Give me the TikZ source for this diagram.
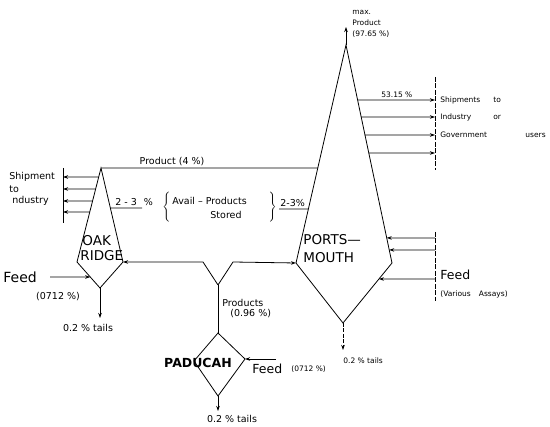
\documentclass[tikz,border=0pt]{standalone}
\usepackage{fontspec}
\setmainfont{DejaVu Sans}
\usetikzlibrary{arrows.meta,calc}
\begin{document}
\begin{tikzpicture}[x=1pt,y=-1pt,
  line width=0.8pt,
  arr/.style={-{Stealth[length=5pt,width=3.5pt]}},
  lbl/.style={font=\fontsize{9.5}{11}\selectfont, inner sep=0pt},
  sml/.style={font=\fontsize{7.5}{9}\selectfont, inner sep=0pt},
  big/.style={font=\fontsize{13.5}{15}\selectfont, inner sep=0pt},
  bigb/.style={font=\fontsize{12.5}{14}\selectfont\bfseries, inner sep=0pt},
  feedlbl/.style={font=\fontsize{12.5}{14}\selectfont, inner sep=0pt},
  coll/.style={dash pattern=on 5pt off 1.5pt, line width=0.6pt}]
\useasboundingbox (0,0) rectangle (550,427);

% ---------- plant outlines ----------
\coordinate (orT) at (101,168);
\coordinate (orL) at (77,262);
\coordinate (orB) at (100,288);
\coordinate (orR) at (123,262);
\draw (orT) -- (orL) -- (orB) -- (orR) -- cycle;

\coordinate (psT) at (346,45);
\coordinate (psL) at (296,263);
\coordinate (psB) at (343,323);
\coordinate (psR) at (392,263);
\draw (psT) -- (psL) -- (psB) -- (psR) -- cycle;

\coordinate (pdT) at (218,333);
\coordinate (pdL) at (194,361);
\coordinate (pdB) at (218,396);
\coordinate (pdR) at (245,359);
\draw (pdT) -- (pdL) -- (pdB) -- (pdR) -- cycle;

% ---------- plant names ----------
\node[big, anchor=west] (oak) at (82,241) {OAK};
\node[big, anchor=west] (ridge) at (80,256) {RIDGE};
\node[big, anchor=west] (ports) at (303,240) {PORTS—};
\node[big, anchor=west] (mouth) at (303,258) {MOUTH};
\node[bigb] (paducah) at (198,363) {PADUCAH};

% ---------- product (4 %) ----------
\coordinate (psP) at ($(psT)!0.564!(psL)$);
\draw (orT) -- (psP);
\node[lbl] (prod4) at (172,162) {Product (4 \%)};

% ---------- Oak Ridge shipments ----------
\coordinate (shLt) at (63,168);
\coordinate (shLb) at (63,223);
\draw (shLt) -- (shLb);
\coordinate (e1) at ($(orT)!0.096!(orL)$);
\coordinate (e2) at ($(orT)!0.223!(orL)$);
\coordinate (e3) at ($(orT)!0.351!(orL)$);
\coordinate (e4) at ($(orT)!0.468!(orL)$);
\coordinate (s1) at (63,177);
\coordinate (s2) at (63,189);
\coordinate (s3) at (63,201);
\coordinate (s4) at (63,212);
\draw[arr] (e1) -- (s1);
\draw[arr] (e2) -- (s2);
\draw[arr] (e3) -- (s3);
\draw[arr] (e4) -- (s4);
\node[lbl, anchor=west] (shp1) at (9,177) {Shipment};
\node[lbl, anchor=west] (shp2) at (9,189) {to};
\node[lbl, anchor=west] (shp3) at (12,201) {ndustry};

% ---------- Oak Ridge feed / tails ----------
\coordinate (orFs) at (50,277);
\coordinate (orFe) at ($(orL)!0.577!(orB)$);
\draw[arr] (orFs) -- (orFe);
\node[feedlbl, font=\fontsize{14}{15}\selectfont, anchor=west] (orFeed) at (3,277) {Feed};
\node[lbl] (orFpct) at (58,297) {(0712 \%)};
\coordinate (orTl) at (100,318);
\draw[arr] (orB) -- (orTl);
\node[lbl] (orTail) at (88,328) {0.2 \% tails};

% ---------- 2-3 % and stored products ----------
\coordinate (u1a) at ($(orT)!0.426!(orR)$);
\coordinate (u1b) at (142,208);
\draw (u1a) -- (u1b);
\node[lbl, anchor=west] (pct1) at (115,202.5) {2 - 3\hspace{7pt}\%};
\node[inner sep=0pt] (brL) at (167,207) {$\left\{\vcenter{\hrule height 30pt width 0pt}\right.$};
\node[lbl, anchor=west] (avail) at (172,201) {Avail – Products};
\node[lbl] (stored) at (226,215) {Stored};
\node[inner sep=0pt] (brR) at (272,207) {$\left.\vcenter{\hrule height 30pt width 0pt}\right\}$};
\coordinate (u2a) at (279,209);
\coordinate (u2b) at ($(psT)!0.752!(psL)$);
\draw (u2a) -- (u2b);
\node[lbl, anchor=west] (pct2) at (280,203) {2-3\%};

% ---------- Paducah products split ----------
\coordinate (sp) at (218,285);
\coordinate (spL) at (203,262);
\coordinate (spR) at (233,262);
\draw (pdT) -- (sp);
\draw[arr] (sp) -- (spL) -- (orR);
\draw[arr] (sp) -- (spR) -- (psL);
\node[lbl, anchor=west] (prods) at (222,303) {Products};
\node[lbl, anchor=west] (prodpct) at (230,314) {(0.96 \%)};

% ---------- Paducah feed / tails ----------
\coordinate (pdFs) at (276,359);
\draw[arr] (pdFs) -- (pdR);
\node[feedlbl, anchor=west] (pdFeed) at (252,369) {Feed};
\node[sml, anchor=west] (pdFpct) at (291,369) {(0712 \%)};
\coordinate (pdTl) at (218,411);
\draw[arr] (pdB) -- (pdTl);
\node[lbl] (pdTail) at (232,419) {0.2 \% tails};

% ---------- Portsmouth max product ----------
\coordinate (mx) at (346,27);
\draw[arr] (psT) -- (mx);
\node[sml, anchor=west] (mx1) at (352,12) {max.};
\node[sml, anchor=west] (mx2) at (352,23) {Product};
\node[sml, anchor=west] (mx3) at (352,34) {(97.65 \%)};

% ---------- Portsmouth shipments ----------
\coordinate (cRt) at (435,77);
\coordinate (cRb) at (435,170);
\draw[coll] (cRt) -- (cRb);
\coordinate (r1) at ($(psT)!0.252!(psR)$);
\coordinate (r2) at ($(psT)!0.330!(psR)$);
\coordinate (r3) at ($(psT)!0.413!(psR)$);
\coordinate (r4) at ($(psT)!0.495!(psR)$);
\coordinate (t1) at (435,100);
\coordinate (t2) at (435,117);
\coordinate (t3) at (435,135);
\coordinate (t4) at (435,153);
\draw[arr] (r1) -- (t1);
\draw[arr] (r2) -- (t2);
\draw[arr] (r3) -- (t3);
\draw[arr] (r4) -- (t4);
\node[sml, anchor=west] (pct53) at (381,95) {53.15 \%};
\node[sml, anchor=west] (ship1) at (440,100) {\makebox[53pt][l]{Shipments}to};
\node[sml, anchor=west] (ship2) at (440,117) {\makebox[53pt][l]{Industry}or};
\node[sml, anchor=west] (ship3) at (440,135) {\makebox[85pt][l]{Government}users};

% ---------- Portsmouth feed ----------
\coordinate (cFt) at (435,232);
\coordinate (cFb) at (435,301);
\draw[coll] (cFt) -- (cFb);
\coordinate (f1) at ($(psT)!0.885!(psR)$);
\coordinate (f2) at ($(psT)!0.940!(psR)$);
\coordinate (f3) at ($(psR)!0.267!(psB)$);
\coordinate (g1) at (435,238);
\coordinate (g2) at (435,250);
\coordinate (g3) at (435,279);
\draw[arr] (g1) -- (f1);
\draw[arr] (g2) -- (f2);
\draw[arr] (g3) -- (f3);
\node[feedlbl, anchor=west] (psFeed) at (440,275) {Feed};
\node[sml, anchor=west] (psFpct) at (440,294) {(Various\hspace{8pt}Assays)};

% ---------- Portsmouth tails ----------
\coordinate (psTl) at (343,350);
\draw[arr, dash pattern=on 4pt off 1.5pt] (psB) -- (psTl);
\node[sml, anchor=west] (psTail) at (343,361) {0.2 \% tails};
\end{tikzpicture}
\end{document}
